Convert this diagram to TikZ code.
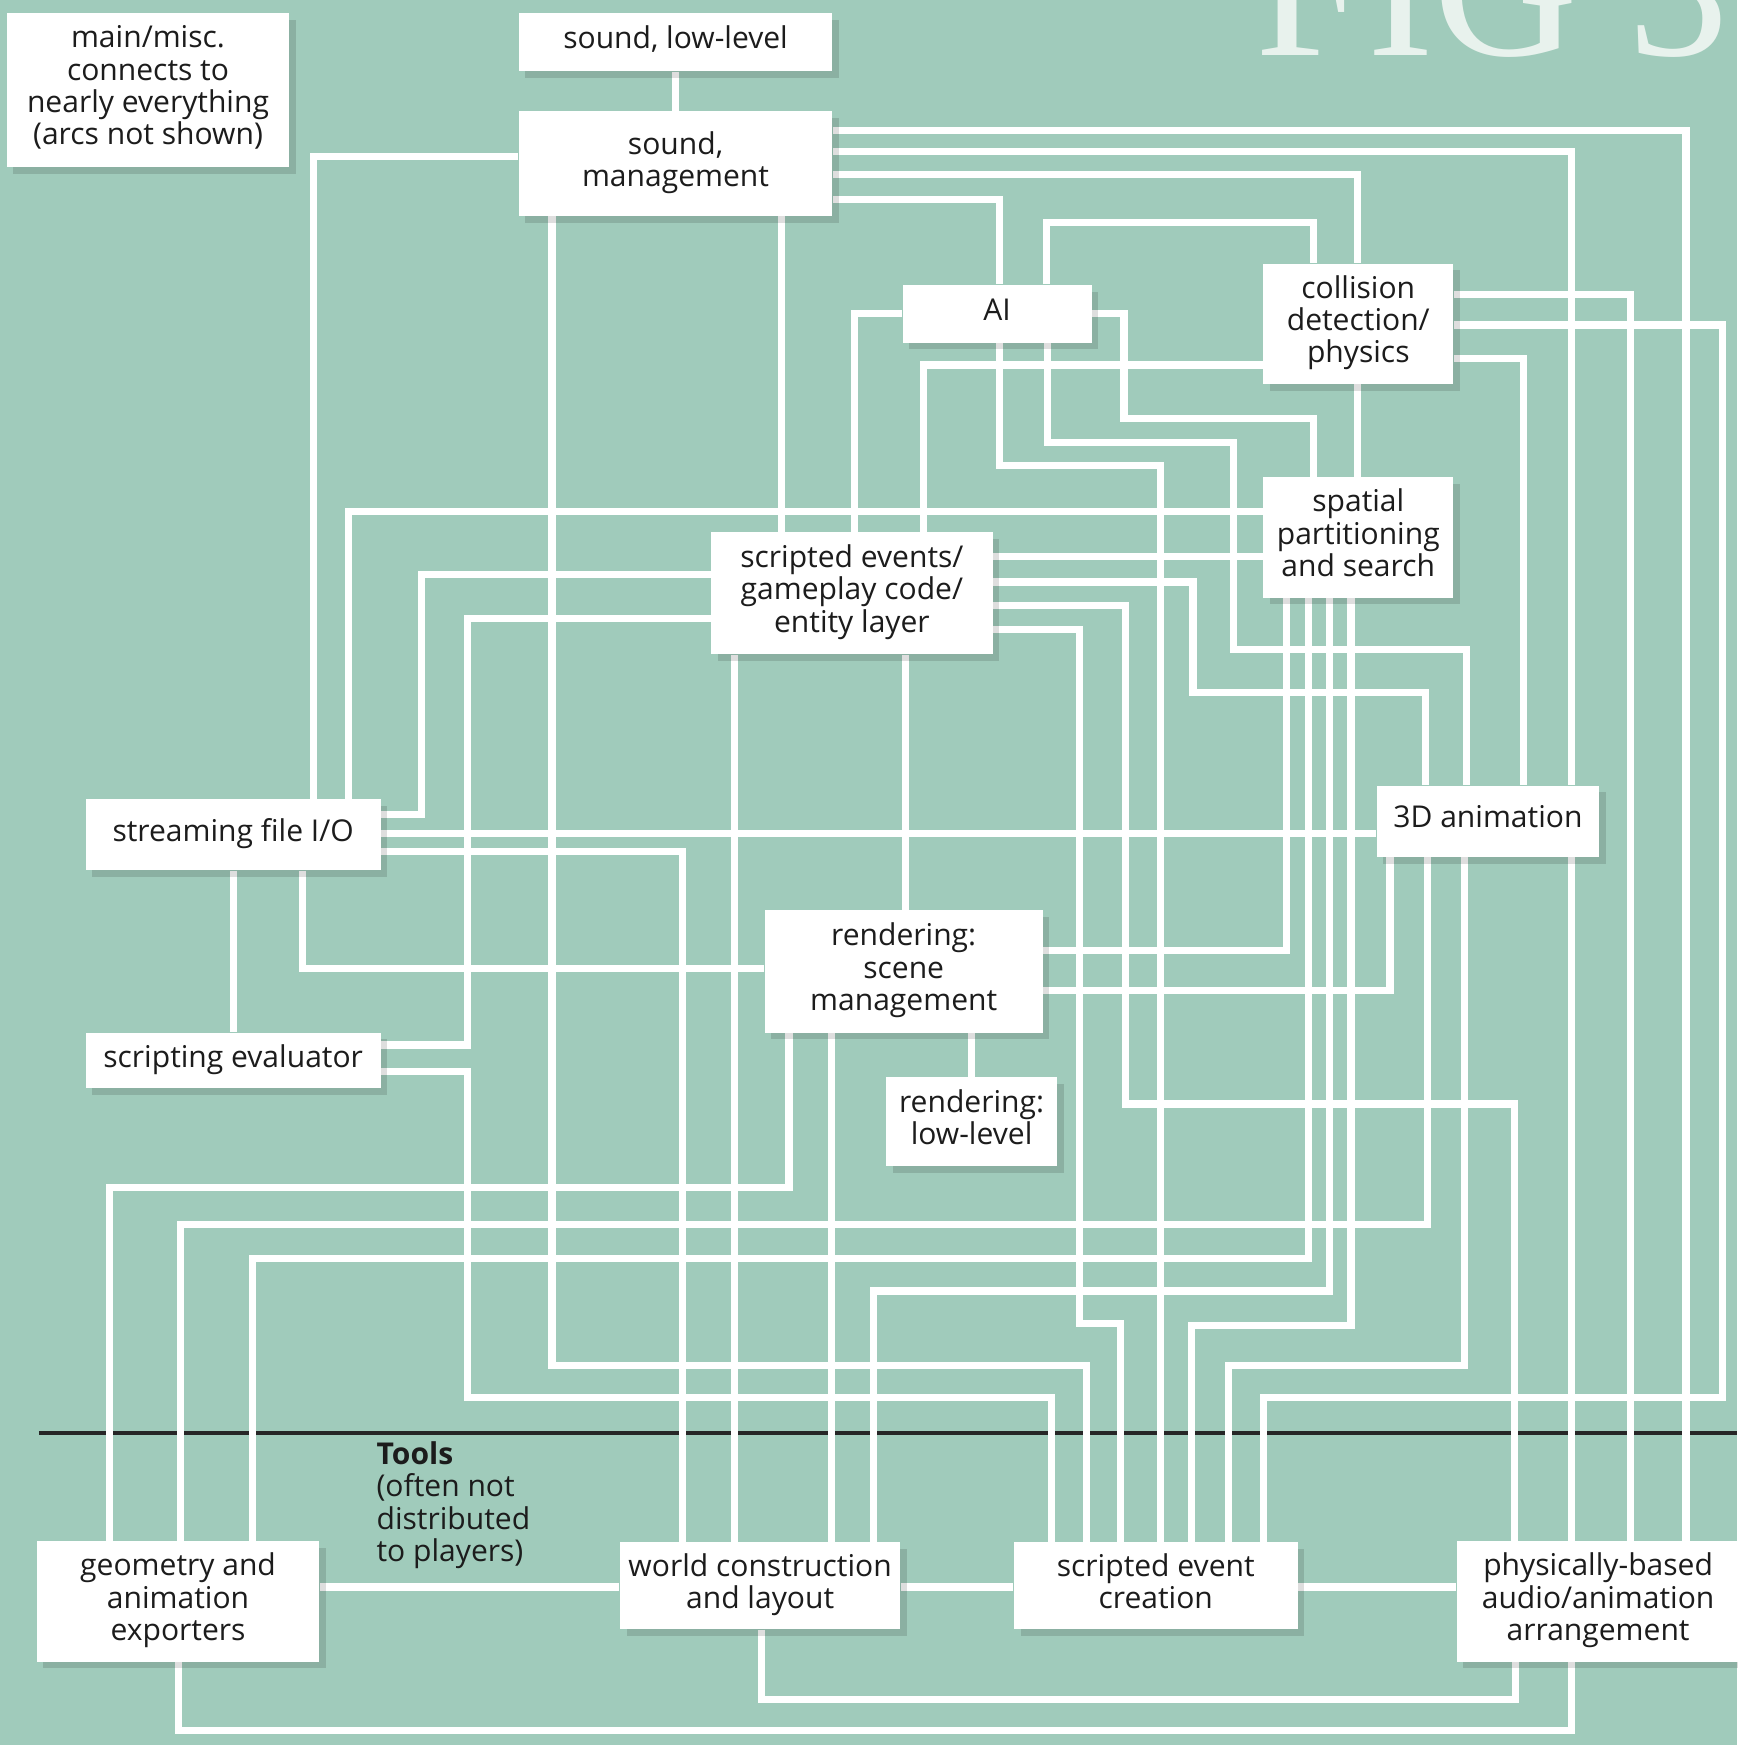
\documentclass[tikz,border=0pt]{standalone}
\usepackage{fontspec}
\setmainfont{Open Sans}
\newfontfamily\figfont{Liberation Serif}
\usetikzlibrary{shadows}
\definecolor{bgc}{RGB}{160,203,187}
\definecolor{figc}{RGB}{232,242,237}
\definecolor{txt}{RGB}{28,28,28}
\pgfdeclarelayer{back}
\pgfdeclarelayer{wires}
\pgfsetlayers{back,wires,main}
\tikzset{
  box/.style={fill=white, inner sep=0pt, align=center, text=txt,
    font=\fontsize{13.5pt}{14.5pt}\selectfont,
    execute at begin node=\strut, execute at end node=\strut,
    drop shadow={shadow xshift=3pt, shadow yshift=-3pt, opacity=0.13, fill=black}},
  wire/.style={draw=white, line width=3.2pt, line join=miter},
  sep/.style={draw=black!85, line width=1.5pt},
  toolstext/.style={anchor=north west, inner sep=0pt, align=left, text=txt,
    font=\fontsize{13.5pt}{14.5pt}\selectfont},
  figtext/.style={anchor=base west, inner sep=0pt, text=figc,
    font=\figfont\fontsize{90pt}{90pt}\selectfont}
}
\newcommand{\mkbox}[6]{\node[box, minimum width={(#4-#2)*0.5pt}, minimum height={(#5-#3)*0.5pt}] (#1) at ({(#2+#4)/2},{(#3+#5)/2}) {#6};}
\begin{document}
\begin{tikzpicture}[x=0.5pt,y=-0.5pt]
\useasboundingbox (0,0) rectangle (1561,1568);
\begin{pgfonlayer}{back}
  \fill[bgc] (0,0) rectangle (1561,1568);
  \begin{scope}
    \clip (0,0) rectangle (1561,1568);
    \node[figtext] (fig) at (1128,49.5) {FIG 3};
  \end{scope}
  \draw[sep] (35,1287.5) -- (1561,1287.5);
\end{pgfonlayer}

% boxes
\mkbox{misc}{6}{12}{260}{150}{main/misc.\\connects to\\nearly everything\\(arcs not shown)}
\mkbox{sndll}{466}{12}{748}{64}{sound, low-level}
\mkbox{sndmg}{466}{100}{748}{194}{sound,\\management}
\mkbox{ai}{811}{256}{981}{308}{AI}
\mkbox{coll}{1135}{237}{1306}{345}{collision\\detection/\\physics}
\mkbox{spat}{1135}{429}{1306}{537}{spatial\\partitioning\\and search}
\mkbox{screv}{639}{478}{892}{588}{scripted events/\\gameplay code/\\entity layer}
\mkbox{strm}{77}{718}{342}{782}{streaming file I/O}
\mkbox{anim3d}{1237}{706}{1437}{770}{3D animation}
\mkbox{rsm}{687}{818}{937}{928}{rendering:\\scene\\management}
\mkbox{seval}{77}{928}{342}{978}{scripting evaluator}
\mkbox{rll}{796}{968}{950}{1048}{rendering:\\low-level}
\mkbox{geom}{33}{1385}{287}{1493}{geometry and\\animation\\exporters}
\mkbox{world}{557}{1386}{809}{1464}{world construction\\and layout}
\mkbox{sec}{911}{1386}{1166}{1464}{scripted event\\creation}
\mkbox{phys}{1309}{1385}{1563}{1493}{physically-based\\audio/animation\\arrangement}

\node[toolstext] (tools) at (338,1295) {\textbf{Tools}\\(often not\\distributed\\to players)};

\begin{pgfonlayer}{wires}
% sound management
\draw[wire] (sndll.south -| 607,0) -- (sndmg.north -| 607,0);
\draw[wire] (sndmg.west |- 0,141) -| (strm.north -| 282,0);
\draw[wire] (sndmg.east |- 0,117) -| (phys.north -| 1515,0);
\draw[wire] (sndmg.east |- 0,136) -| (anim3d.north -| 1412,0);
\draw[wire] (sndmg.east |- 0,156.5) -| (coll.north -| 1220,0);
\draw[wire] (sndmg.east |- 0,179) -| (ai.north -| 898,0);
\draw[wire] (sndmg.south -| 702,0) -- (screv.north -| 702,0);
\draw[wire] (sndmg.south -| 496,0) |- (976,1227) -- (sec.north -| 976,0);
% AI
\draw[wire] (ai.west |- 0,282) -| (screv.north -| 768,0);
\draw[wire] (ai.north -| 940,0) |- (1180,200) -- (coll.north -| 1180,0);
\draw[wire] (ai.east |- 0,282) -| (1010,376) -| (spat.north -| 1180,0);
\draw[wire] (ai.south -| 941,0) |- (1108,398) |- (1318,584) -- (anim3d.north -| 1318,0);
\draw[wire] (ai.south -| 898,0) |- (1043,418) -- (sec.north -| 1043,0);
% collision
\draw[wire] (coll.west |- 0,328) -| (screv.north -| 830,0);
\draw[wire] (coll.south -| 1220,0) -- (spat.north -| 1220,0);
\draw[wire] (coll.east |- 0,265) -| (phys.north -| 1465,0);
\draw[wire] (coll.east |- 0,292) -| (1548,1256) -| (sec.north -| 1135,0);
\draw[wire] (coll.east |- 0,322) -| (anim3d.north -| 1369,0);
% streaming file I/O
\draw[wire] (strm.north -| 313,0) |- (spat.west |- 0,460);
\draw[wire] (strm.east |- 0,732) -| (379,516) -- (screv.west |- 0,516);
\draw[wire] (strm.east |- 0,749) -- (anim3d.west |- 0,749);
\draw[wire] (strm.east |- 0,765) -| (world.north -| 613,0);
\draw[wire] (strm.south -| 210,0) -- (seval.north -| 210,0);
\draw[wire] (strm.south -| 272,0) |- (rsm.west |- 0,870);
% scripted events
\draw[wire] (screv.west |- 0,556) -| (420,939) -- (seval.east |- 0,939);
\draw[wire] (seval.east |- 0,963) -| (420,1256) -| (sec.north -| 945,0);
\draw[wire] (screv.east |- 0,500) -- (spat.west |- 0,500);
\draw[wire] (screv.east |- 0,523) -| (1072,622) -| (anim3d.north -| 1281,0);
\draw[wire] (screv.east |- 0,544) -| (1011,992) -| (phys.north -| 1361,0);
\draw[wire] (screv.east |- 0,566) -| (970,1189) -| (sec.north -| 1007,0);
\draw[wire] (screv.south -| 660,0) -- (world.north -| 660,0);
\draw[wire] (screv.south -| 814,0) -- (rsm.north -| 814,0);
% spatial
\draw[wire] (spat.south -| 1156,0) |- (rsm.east |- 0,854);
\draw[wire] (spat.south -| 1176,0) |- (227,1131) -- (geom.north -| 227,0);
\draw[wire] (spat.south -| 1195,0) |- (785,1160) -- (world.north -| 785,0);
\draw[wire] (spat.south -| 1214,0) |- (1071,1191) -- (sec.north -| 1071,0);
% 3D animation
\draw[wire] (anim3d.south -| 1249,0) |- (rsm.east |- 0,890);
\draw[wire] (anim3d.south -| 1283,0) |- (162,1100) -- (geom.north -| 162,0);
\draw[wire] (anim3d.south -| 1316,0) |- (1104,1227) -- (sec.north -| 1104,0);
\draw[wire] (anim3d.south -| 1412,0) -- (phys.north -| 1412,0);
% rendering
\draw[wire] (rsm.south -| 709,0) |- (98,1067) -- (geom.north -| 98,0);
\draw[wire] (rsm.south -| 747,0) -- (world.north -| 747,0);
\draw[wire] (rsm.south -| 873,0) -- (rll.north -| 873,0);
% tools
\draw[wire] (geom.east |- 0,1426) -- (world.west |- 0,1426);
\draw[wire] (world.east |- 0,1426) -- (sec.west |- 0,1426);
\draw[wire] (sec.east |- 0,1426) -- (phys.west |- 0,1426);
\draw[wire] (world.south -| 684,0) |- (1362,1527) -- (phys.south -| 1362,0);
\draw[wire] (geom.south -| 160,0) |- (1412,1555) -- (phys.south -| 1412,0);
\end{pgfonlayer}
\end{tikzpicture}
\end{document}
